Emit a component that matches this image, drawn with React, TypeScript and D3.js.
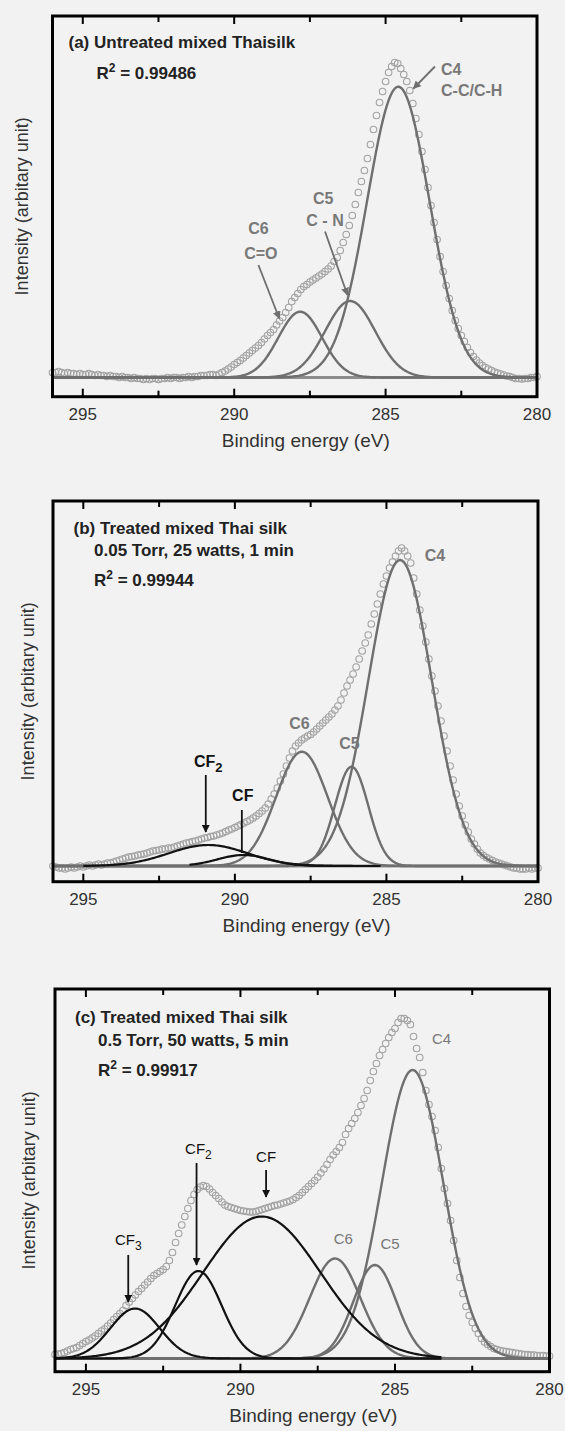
import React from "react";
import * as d3 from "d3";

// ---------- shared axis data ----------
const ENERGY_START = 296; // eV, first data point
const ENERGY_STEP = 0.1; // eV between data points
const X_DOMAIN = [296, 280];
const MAJOR_TICKS = [295, 290, 285, 280];
const MINOR_TICKS = [292.5, 287.5, 282.5];
const X_TITLE = "Binding energy (eV)";
const Y_TITLE = "Intensity (arbitary unit)";

// ---------- measured spectra (intensity above background, a.u.) ----------
const intensityA = [
  5, 5, 6, 5, 4, 5, 4, 4, 3, 4,
  3, 3, 4, 3, 2, 3, 2, 2, 1, 2,
  1, 1, 0, 1, 0, 0, -1, 0, -1, -1,
  -2, -1, -2, -1, -1, -2, -1, -1, 0, -1,
  0, 0, -1, 0, 0, 1, 0, 1, 1, 2,
  2, 2, 3, 3, 2, 3.5, 5, 6.5, 8.5, 10.5,
  13, 15, 17, 19.5, 22, 24.5, 27, 29.5, 32, 35,
  38.5, 42, 45, 48, 52.5, 56.5, 60, 65, 70, 76,
  80, 84, 88, 91, 93, 95.5, 97.5, 99.5, 101.5, 103.5,
  106, 108.5, 111.5, 116, 120, 127, 135, 143, 152, 162,
  173, 185, 196, 207, 219, 233, 248, 262, 275, 286,
  296, 305, 311, 315, 314, 309, 303, 296, 287, 274,
  259, 243, 226, 208, 190, 172, 155, 138, 121, 106,
  92, 79, 67, 57, 49, 42, 36, 30, 25, 21,
  17.5, 14.5, 12, 10, 8.5, 7, 5.5, 4.5, 3.5, 2.5,
  1.5, 1, 0, -1, -1, -1.5, -1, -1, 0, 0, 1,
];

const intensityB = [
  0, -1, -2, -2, -3, -2, -1, -2, -1, 0,
  -1, 0, 1, 0, 1, 2, 1, 2, 3, 3,
  4, 5, 6, 7, 8, 9, 9.5, 10, 11, 11.5,
  12, 13, 14, 15, 15.5, 16, 17, 17, 18, 18,
  19, 20, 21, 22, 23, 23.5, 24.5, 25, 26, 27,
  28, 28.5, 29.5, 30, 31, 32, 33, 34.5, 36, 37,
  38.5, 40, 41.5, 43, 44.5, 46, 48, 50, 52.5, 55,
  58, 62, 67, 72, 78, 85, 92, 100, 108, 115,
  120, 123, 126, 128, 130, 131.5, 134, 137, 140, 143,
  146, 149, 152, 156, 160, 166, 173, 180, 186, 192,
  199, 207, 215, 223, 231, 242, 252, 262, 272, 282,
  290, 298, 304, 310, 315, 318, 315, 310, 303, 288,
  272, 256, 240, 224, 207, 190, 175, 160, 145, 130,
  115, 100, 86, 72, 60, 50, 41, 34, 27, 22,
  17, 13, 10.5, 8.5, 7, 5.5, 4, 3, 2, 1,
  0, -1, -2, -2, -3, -3, -3, -2, -3, -2, -2,
];

const intensityC = [
  4, 4.5, 5, 6, 7.5, 9, 10, 11, 13, 15,
  17, 18.5, 20.5, 22.5, 25, 27.5, 29.5, 32.5, 35.5, 39,
  42, 45, 48, 53, 56.5, 60, 63.5, 67, 70, 73.5,
  76.5, 80, 83, 85, 87, 89, 92, 98, 106, 116,
  125, 133.5, 142, 150, 158, 164, 169, 171.5, 173, 172,
  169.5, 166, 163, 160, 156.5, 153.5, 152, 151, 150, 149,
  148, 147.5, 147, 146.5, 146.5, 147, 148, 149, 150, 151,
  152, 153, 153.5, 154.5, 155.5, 156.5, 157.5, 159, 161, 163,
  166, 169, 172, 175, 178, 181.5, 185.5, 189.5, 194, 199,
  203.5, 207, 211, 216, 224, 230, 235, 240, 246, 253,
  260, 268, 278, 287, 295, 303, 309, 315, 321, 326,
  330, 336, 340, 340, 338, 334, 322, 310, 301, 286,
  268, 254, 242, 228, 211, 190, 170, 155, 138, 118,
  98, 81, 65, 52, 43, 36, 30, 25, 20, 16.5,
  14, 12, 10, 9, 8, 7.5, 7, 6.5, 6, 5.5,
  5, 4.5, 4, 4, 3.5, 3.5, 3, 3, 3, 2.5, 2.5,
];

// ---------- fitted components (Gaussian: centre eV, height a.u., FWHM eV) ----------
const peakNamesA = ["C4", "C5", "C6"];
const peakCentersA = [284.58, 286.17, 287.82];
const peakHeightsA = [290.8, 76.5, 65.8];
const peakFwhmA = [2.43, 1.95, 1.7];

const peakNamesB = ["C4", "C5", "C6", "CF2", "CF"];
const peakCentersB = [284.55, 286.15, 287.79, 290.88, 289.72];
const peakHeightsB = [306, 99.3, 114.3, 21, 11];
const peakFwhmB = [2.47, 1.3, 2.0, 3.06, 2.0];
const peakSpanB = [[296, 280], [296, 280], [296, 280], [295, 285.2], [291.5, 285.2]];

const peakNamesC = ["C4", "C5", "C6", "CF", "CF2", "CF3"];
const peakCentersC = [284.43, 285.65, 286.94, 289.31, 291.36, 293.41];
const peakHeightsC = [288.5, 93.5, 100, 142, 87.5, 50];
const peakFwhmC = [2.35, 1.65, 1.93, 4.47, 1.77, 1.88];
const peakSpanC = [[296, 280], [296, 280], [296, 280], [296, 283.5], [296, 283.5], [296, 283.5]];

const R2_A = "0.99486";
const R2_B = "0.99944";
const R2_C = "0.99917";

// ---------- styles ----------
const FONT = "'Liberation Sans', Arial, Helvetica, sans-serif";
const BG = "#f2f2f2";
const GRAY_LINE = "#6f6f6f";
const BLACK_LINE = "#121212";
const DATA_STROKE = "#a2a2a2";
const BASE_LINE = "#8e8e8e";
const LABEL_GRAY = "#787878";

type Label = { text: string; sub?: string; e: number; i: number; color: string; bold: boolean; size: number; anchor?: string };
type Arrow = { e1: number; i1: number; e2: number; i2: number; color: string; head: boolean };

const panels = [
  {
    id: "a",
    left: 52.5, right: 537, top: 16, bottom: 396.7,
    yDomain: [-19.2, 361.5],
    yTitleX: 22,
    data: intensityA,
    names: peakNamesA, centers: peakCentersA, heights: peakHeightsA, fwhm: peakFwhmA,
    spans: peakNamesA.map(() => [296, 280]),
    header: [
      { t: "(a) Untreated mixed Thaisilk", dx: 16, dy: 26 },
    ],
    r2: { v: R2_A, dx: 44, dy: 57 },
    labels: [
      { text: "C4", e: 283.17, i: 308, color: LABEL_GRAY, bold: true, size: 16, anchor: "start" },
      { text: "C-C/C-H", e: 283.17, i: 287, color: LABEL_GRAY, bold: true, size: 16, anchor: "start" },
      { text: "C5", e: 287.06, i: 179, color: LABEL_GRAY, bold: true, size: 16 },
      { text: "C - N", e: 287.0, i: 157.5, color: LABEL_GRAY, bold: true, size: 16 },
      { text: "C6", e: 289.2, i: 149, color: LABEL_GRAY, bold: true, size: 16 },
      { text: "C=O", e: 289.12, i: 124, color: LABEL_GRAY, bold: true, size: 16 },
    ] as Label[],
    arrows: [
      { e1: 283.37, i1: 311, e2: 284.08, i2: 289, color: GRAY_LINE, head: true },
      { e1: 287.0, i1: 146, e2: 286.26, i2: 82.5, color: GRAY_LINE, head: true },
      { e1: 289.2, i1: 112.5, e2: 288.51, i2: 59, color: GRAY_LINE, head: true },
    ] as Arrow[],
  },
  {
    id: "b",
    left: 53, right: 538, top: 501, bottom: 881.7,
    yDomain: [-15.7, 365],
    yTitleX: 28,
    data: intensityB,
    names: peakNamesB, centers: peakCentersB, heights: peakHeightsB, fwhm: peakFwhmB,
    spans: peakSpanB,
    header: [
      { t: "(b) Treated mixed Thai silk", dx: 20.5, dy: 27.5 },
      { t: "0.05 Torr, 25 watts, 1 min", dx: 41, dy: 49.5 },
    ],
    r2: { v: R2_B, dx: 41, dy: 79 },
    labels: [
      { text: "C4", e: 283.4, i: 311, color: LABEL_GRAY, bold: true, size: 16 },
      { text: "C6", e: 287.87, i: 142.7, color: LABEL_GRAY, bold: true, size: 16 },
      { text: "C5", e: 286.22, i: 122.7, color: LABEL_GRAY, bold: true, size: 16 },
      { text: "CF", sub: "2", e: 290.88, i: 104.3, color: "#111", bold: true, size: 16 },
      { text: "CF", e: 289.74, i: 71, color: "#111", bold: true, size: 16 },
    ] as Label[],
    arrows: [
      { e1: 290.96, i1: 91, e2: 290.96, i2: 34, color: BLACK_LINE, head: true },
      { e1: 289.77, i1: 56, e2: 289.77, i2: 13, color: BLACK_LINE, head: false },
    ] as Arrow[],
  },
  {
    id: "c",
    left: 55, right: 549.5, top: 989, bottom: 1371.7,
    yDomain: [-13.2, 369.5],
    yTitleX: 29,
    data: intensityC,
    names: peakNamesC, centers: peakCentersC, heights: peakHeightsC, fwhm: peakFwhmC,
    spans: peakSpanC,
    header: [
      { t: "(c) Treated mixed Thai silk", dx: 20, dy: 28 },
      { t: "0.5 Torr, 50 watts, 5 min", dx: 43, dy: 51 },
    ],
    r2: { v: R2_C, dx: 43, dy: 81 },
    labels: [
      { text: "C4", e: 283.49, i: 320, color: LABEL_GRAY, bold: false, size: 15 },
      { text: "C6", e: 286.67, i: 120, color: LABEL_GRAY, bold: false, size: 15 },
      { text: "C5", e: 285.16, i: 115, color: LABEL_GRAY, bold: false, size: 15 },
      { text: "CF", sub: "3", e: 293.63, i: 118.5, color: "#111", bold: false, size: 15 },
      { text: "CF", sub: "2", e: 291.36, i: 210, color: "#111", bold: false, size: 15 },
      { text: "CF", e: 289.17, i: 202, color: "#111", bold: false, size: 15 },
    ] as Label[],
    arrows: [
      { e1: 293.63, i1: 103.5, e2: 293.63, i2: 56.5, color: BLACK_LINE, head: true },
      { e1: 291.42, i1: 195.5, e2: 291.42, i2: 93.5, color: BLACK_LINE, head: true },
      { e1: 289.17, i1: 188.5, e2: 289.17, i2: 161.5, color: BLACK_LINE, head: true },
    ] as Arrow[],
  },
];

function gaussian(e: number, c: number, h: number, w: number) {
  return h * Math.exp((-4 * Math.LN2 * (e - c) * (e - c)) / (w * w));
}

function Panel({ cfg }: { cfg: (typeof panels)[number] }) {
  const x = d3.scaleLinear().domain(X_DOMAIN).range([cfg.left, cfg.right]);
  const y = d3.scaleLinear().domain(cfg.yDomain).range([cfg.bottom, cfg.top]);
  const line = d3
    .line<[number, number]>()
    .x((d) => x(d[0]))
    .y((d) => y(d[1]))
    .curve(d3.curveLinear);

  const points = cfg.data.map((v, k) => [ENERGY_START - k * ENERGY_STEP, v] as [number, number]);

  const fits = cfg.names.map((name, j) => {
    const [from, to] = cfg.spans[j];
    const n = Math.round((from - to) / 0.05);
    const pts = d3.range(n + 1).map((k) => {
      const e = from - k * 0.05;
      return [e, gaussian(e, cfg.centers[j], cfg.heights[j], cfg.fwhm[j])] as [number, number];
    });
    const black = name.startsWith("CF");
    return { name, d: line(pts) || "", black };
  });

  const midX = (cfg.left + cfg.right) / 2;
  const midY = (cfg.top + cfg.bottom) / 2;

  return (
    <g>
      {/* background baseline */}
      <line x1={x(296)} x2={x(280)} y1={y(0)} y2={y(0)} stroke={BASE_LINE} strokeWidth={3} />
      {/* data */}
      {points.map((p, k) => (
        <circle key={k} cx={x(p[0])} cy={y(p[1])} r={3.3} fill="none" stroke={DATA_STROKE} strokeWidth={1.1} />
      ))}
      {/* fitted components: gray first, black on top */}
      {fits.filter((f) => !f.black).map((f) => (
        <path key={f.name} d={f.d} fill="none" stroke={GRAY_LINE} strokeWidth={2.4} strokeLinejoin="round" />
      ))}
      {fits.filter((f) => f.black).map((f) => (
        <path key={f.name} d={f.d} fill="none" stroke={BLACK_LINE} strokeWidth={2.2} strokeLinejoin="round" />
      ))}
      {/* frame */}
      <rect x={cfg.left} y={cfg.top} width={cfg.right - cfg.left} height={cfg.bottom - cfg.top} fill="none" stroke="#000" strokeWidth={3} />
      {MAJOR_TICKS.filter((t) => t !== 280).map((t) => (
        <g key={"M" + t}>
          <line x1={x(t)} x2={x(t)} y1={cfg.bottom} y2={cfg.bottom - 8} stroke="#000" strokeWidth={2} />
          <line x1={x(t)} x2={x(t)} y1={cfg.top} y2={cfg.top + 8} stroke="#000" strokeWidth={2} />
        </g>
      ))}
      {MINOR_TICKS.map((t) => (
        <g key={"m" + t}>
          <line x1={x(t)} x2={x(t)} y1={cfg.bottom} y2={cfg.bottom - 6} stroke="#000" strokeWidth={2} />
          <line x1={x(t)} x2={x(t)} y1={cfg.top} y2={cfg.top + 6} stroke="#000" strokeWidth={2} />
        </g>
      ))}
      {MAJOR_TICKS.map((t) => (
        <text key={"l" + t} x={x(t)} y={cfg.bottom + 23} textAnchor="middle" fontSize={17} fill="#333" fontFamily={FONT}>
          {t}
        </text>
      ))}
      <text x={midX + 11} y={cfg.bottom + 50} textAnchor="middle" fontSize={19} fill="#333" fontFamily={FONT}>
        {X_TITLE}
      </text>
      <text
        transform={`translate(${cfg.yTitleX},${midY}) rotate(-90)`}
        dy="0.35em"
        textAnchor="middle"
        fontSize={18}
        fill="#333"
        fontFamily={FONT}
      >
        {Y_TITLE}
      </text>
      {/* header text */}
      {cfg.header.map((h, k) => (
        <text key={k} x={cfg.left + h.dx} y={cfg.top + h.dy} dy="0.35em" fontSize={17} fontWeight="bold" fill="#222" fontFamily={FONT}>
          {h.t}
        </text>
      ))}
      <text x={cfg.left + cfg.r2.dx} y={cfg.top + cfg.r2.dy} dy="0.35em" fontSize={17} fontWeight="bold" fill="#222" fontFamily={FONT}>
        R<tspan dy={-7} fontSize={12}>2</tspan>
        <tspan dy={7}> = {cfg.r2.v}</tspan>
      </text>
      {/* arrows */}
      {cfg.arrows.map((a, k) => (
        <line
          key={"a" + k}
          x1={x(a.e1)}
          y1={y(a.i1)}
          x2={x(a.e2)}
          y2={y(a.i2)}
          stroke={a.color}
          strokeWidth={1.8}
          markerEnd={a.head ? (a.color === BLACK_LINE ? "url(#headBlack)" : "url(#headGray)") : undefined}
        />
      ))}
      {/* component labels */}
      {cfg.labels.map((l, k) => (
        <text
          key={"t" + k}
          x={x(l.e)}
          y={y(l.i)}
          dy="0.35em"
          textAnchor={l.anchor || "middle"}
          fontSize={l.size}
          fontWeight={l.bold ? "bold" : "normal"}
          fill={l.color}
          fontFamily={FONT}
        >
          {l.text}
          {l.sub ? (
            <tspan dy={5} fontSize={l.size - 3}>
              {l.sub}
            </tspan>
          ) : null}
        </text>
      ))}
    </g>
  );
}

export default function App() {
  return (
    <>
      <style>{`body{margin:0;background:${BG};}`}</style>
      <svg width={565} height={1431} style={{ display: "block", background: BG }}>
        <defs>
          <marker id="headBlack" viewBox="0 0 10 10" refX="9" refY="5" markerUnits="userSpaceOnUse" markerWidth="8" markerHeight="8" orient="auto">
            <path d="M0,0 L10,5 L0,10 z" fill={BLACK_LINE} />
          </marker>
          <marker id="headGray" viewBox="0 0 10 10" refX="9" refY="5" markerUnits="userSpaceOnUse" markerWidth="8" markerHeight="8" orient="auto">
            <path d="M0,0 L10,5 L0,10 z" fill={GRAY_LINE} />
          </marker>
        </defs>
        {panels.map((p) => (
          <Panel key={p.id} cfg={p} />
        ))}
      </svg>
    </>
  );
}
